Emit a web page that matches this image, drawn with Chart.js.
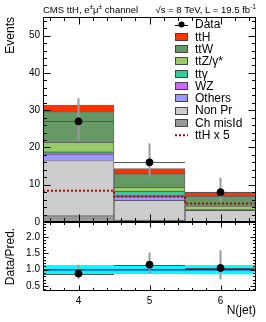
<!DOCTYPE html>
<html>
<head>
<meta charset="utf-8">
<script src="https://cdn.jsdelivr.net/npm/chart.js@4.4.1/dist/chart.umd.min.js"></script>
<style>
  html, body { margin: 0; padding: 0; background: #fff; }
  #wrap { width: 266px; height: 322px; }
</style>
</head>
<body>
<div id="wrap"><canvas id="c" width="266" height="322"></canvas></div>
<script>
// N(jet) bins
const nJet = [4, 5, 6]
const binEdges = [3.5, 4.5, 5.5, 6.5]

// expected yields, stacked bottom to top
const chMisId = [1.7, 0.5, 0.1]
const nonPrompt = [14.8, 5.3, 3.0]
const others = [1.6, 1.0, 0.1]
const wz = [0.5, 0.5, 0.05]
const ttGamma = [0.3, 0.9, 0.15]
const ttZ = [2.5, 1.1, 0.9]
const ttW = [8.2, 3.6, 2.6]
const ttH = [1.8, 1.4, 1.15]
const ttHx5 = [8.4, 6.85, 4.96]

// observed data, with error bar ends
const dataObs = [27, 16, 8]
const dataHi = [33.2, 21.1, 11.9]
const dataLo = [21.8, 12.0, 5.2]

// ratio panel
const ratio = [0.88, 1.15, 1.05]
const ratioHi = [1.15, 1.52, 1.59]
const ratioLo = [0.72, 0.88, 0.70]
const bandHi = [1.13, 1.11, 1.13]
const bandLo = [0.88, 0.88, 0.87]
const ratioRef = 1

// tick labels
const xTicks = [4, 5, 6]
const yTicks = [0, 10, 20, 30, 40, 50]
const rTicks = [0.5, 1.0, 1.5, 2.0]

const FONT = "'Liberation Sans', Arial, Helvetica, sans-serif"

const stackDefs = [
  ['Ch misId', chMisId, '#999999'],
  ['Non Pr', nonPrompt, '#cccccc'],
  ['Others', others, '#9999ff'],
  ['WZ', wz, '#cc66ff'],
  ['tt\u03b3', ttGamma, '#33cc99'],
  ['ttZ/\u03b3*', ttZ, '#99cc66'],
  ['ttW', ttW, '#669966'],
  ['ttH', ttH, '#ff3300']
]

const toXY = vals => nJet.map((n, i) => ({ x: n, y: vals[i] }))

const datasets = stackDefs.map(([label, vals, color]) => ({
  type: 'bar',
  label,
  data: toXY(vals),
  yAxisID: 'y',
  backgroundColor: color,
  borderColor: 'rgba(40,40,40,0.7)',
  borderWidth: 1,
  barPercentage: 1,
  categoryPercentage: 1
}))

datasets.push({
  type: 'line', label: 'ttH x 5', yAxisID: 'y', stack: 'sig5',
  data: binEdges.map((e, i) => ({ x: e, y: ttHx5[Math.min(i, ttHx5.length - 1)] })),
  stepped: 'before', borderColor: '#a00d0d', borderWidth: 2, borderDash: [2, 2],
  pointRadius: 0, fill: false, order: -1
})

datasets.push({
  type: 'scatter', label: 'Data', yAxisID: 'y', stack: 'obs',
  data: toXY(dataObs), errHi: dataHi, errLo: dataLo,
  pointRadius: 3.5, backgroundColor: '#000', borderColor: '#000', order: -2
})

datasets.push({
  type: 'bar', label: 'band', yAxisID: 'yr',
  data: nJet.map((n, i) => ({ x: n, y: [bandLo[i], bandHi[i]] })),
  backgroundColor: '#00ffff', borderWidth: 0,
  barPercentage: 1, categoryPercentage: 1
})

datasets.push({
  type: 'line', label: 'unity', yAxisID: 'yr',
  data: [{ x: binEdges[0], y: ratioRef }, { x: binEdges[binEdges.length - 1], y: ratioRef }],
  borderColor: '#1a1aff', borderWidth: 1.5, pointRadius: 0, fill: false, order: -1
})

datasets.push({
  type: 'scatter', label: 'Ratio', yAxisID: 'yr',
  data: toXY(ratio), errHi: ratioHi, errLo: ratioLo,
  pointRadius: 3.5, backgroundColor: '#000', borderColor: '#000', order: -2
})

// data error bars: bin-wide horizontal line plus vertical uncertainty
const errorBars = {
  id: 'errorBars',
  beforeDatasetDraw(chart, args) {
    const ds = chart.data.datasets[args.index]
    if (!ds.errHi) return
    const ctx = chart.ctx
    const xs = chart.scales.x
    const ys = chart.scales[ds.yAxisID]
    ctx.save()
    ds.data.forEach((p, i) => {
      const px = xs.getPixelForValue(p.x)
      const py = Math.round(ys.getPixelForValue(p.y)) + 0.5
      ctx.strokeStyle = '#555'
      ctx.lineWidth = 1
      ctx.beginPath()
      ctx.moveTo(xs.getPixelForValue(binEdges[i]), py)
      ctx.lineTo(xs.getPixelForValue(binEdges[i + 1]), py)
      ctx.stroke()
      ctx.strokeStyle = '#9a9a9a'
      ctx.lineWidth = 2
      ctx.beginPath()
      ctx.moveTo(px, ys.getPixelForValue(ds.errHi[i]))
      ctx.lineTo(px, ys.getPixelForValue(ds.errLo[i]))
      ctx.stroke()
    })
    ctx.restore()
  }
}

// ROOT style frames with inward ticks on all four sides
const frames = {
  id: 'frames',
  afterDatasetsDraw(chart) {
    const { ctx, scales: { x, y, yr } } = chart
    const L = Math.round(x.left) + 0.5
    const R = Math.round(x.right) - 0.5
    ctx.save()
    ctx.strokeStyle = '#000'
    ctx.lineWidth = 1
    const panels = [[y, 10, 2, 7], [yr, 0.5, 0.1, 5]]
    panels.forEach(([s, major, minor, len]) => {
      const T = Math.round(s.top) + 0.5
      const B = Math.round(s.bottom) - 0.5
      ctx.strokeRect(L, T, R - L, B - T)
      ctx.beginPath()
      for (let k = Math.ceil(s.min / minor - 1e-6); k * minor <= s.max + 1e-6; k++) {
        const v = k * minor
        const isMajor = Math.abs(v / major - Math.round(v / major)) < 1e-6
        const l = isMajor ? len : len / 2
        const py = Math.round(s.getPixelForValue(v)) + 0.5
        ctx.moveTo(L, py); ctx.lineTo(L + l, py)
        ctx.moveTo(R, py); ctx.lineTo(R - l, py)
      }
      for (let k = Math.ceil(x.min / 0.2 - 1e-6); k * 0.2 <= x.max + 1e-6; k++) {
        const v = k * 0.2
        const isMajor = Math.abs(v - Math.round(v)) < 1e-6
        const l = isMajor ? len : len / 2
        const px = Math.round(x.getPixelForValue(v)) + 0.5
        ctx.moveTo(px, B); ctx.lineTo(px, B - l)
        ctx.moveTo(px, T); ctx.lineTo(px, T + l)
      }
      ctx.stroke()
    })
    ctx.restore()
  }
}

function drawRuns(ctx, runs, x, y, size, align) {
  const sup = size * 0.7
  const widths = runs.map(([t, s]) => {
    ctx.font = (s ? sup : size) + 'px ' + FONT
    return ctx.measureText(t).width
  })
  const total = widths.reduce((a, b) => a + b, 0)
  let cx = align === 'right' ? x - total : x
  runs.forEach(([t, s], i) => {
    ctx.font = (s ? sup : size) + 'px ' + FONT
    ctx.fillText(t, cx, s ? y - size * 0.4 : y)
    cx += widths[i]
  })
}

// legend and header text
const annotations = {
  id: 'annotations',
  afterDraw(chart) {
    const ctx = chart.ctx
    const area = chart.chartArea
    ctx.save()
    ctx.fillStyle = '#000'
    ctx.textBaseline = 'alphabetic'
    ctx.textAlign = 'left'
    drawRuns(ctx, [['CMS ttH, e'], ['\u00b1', true], ['\u03bc'], ['\u00b1', true], [' channel']], area.left, 13, 9.5, 'left')
    drawRuns(ctx, [['\u221as = 8 TeV, L = 19.5 fb'], ['-1', true]], area.right, 13, 9.5, 'right')

    const rows = ['Data', 'ttH', 'ttW', 'ttZ/\u03b3*', 'tt\u03b3', 'WZ', 'Others', 'Non Pr', 'Ch misId', 'ttH x 5']
    const x0 = 175, w = 13, tx = 195
    ctx.font = '12px ' + FONT
    ctx.textBaseline = 'middle'
    rows.forEach((label, i) => {
      const yc = 24.5 + i * 12.3
      const ds = chart.data.datasets.find(d => d.label === label)
      if (label === 'Data') {
        ctx.strokeStyle = '#000'; ctx.lineWidth = 1
        ctx.beginPath(); ctx.moveTo(x0, Math.round(yc) + 0.5); ctx.lineTo(x0 + w, Math.round(yc) + 0.5); ctx.stroke()
        ctx.beginPath(); ctx.arc(x0 + w / 2, yc, 3, 0, Math.PI * 2); ctx.fill()
      } else if (ds.type === 'line') {
        ctx.strokeStyle = ds.borderColor; ctx.lineWidth = 2; ctx.setLineDash([2, 2])
        ctx.beginPath(); ctx.moveTo(x0, yc); ctx.lineTo(x0 + w, yc); ctx.stroke()
        ctx.setLineDash([])
      } else {
        ctx.fillStyle = ds.backgroundColor
        ctx.fillRect(x0, Math.round(yc) - 4, w, 8)
        ctx.strokeStyle = '#444'; ctx.lineWidth = 1
        ctx.strokeRect(x0 + 0.5, Math.round(yc) - 3.5, w - 1, 7)
      }
      ctx.fillStyle = '#000'
      ctx.fillText(label, tx, yc + 0.5)
    })
    ctx.restore()
  }
}

const axisFont = { family: FONT, size: 10 }
const titleFont = { family: FONT, size: 12 }

new Chart(document.getElementById('c'), {
  type: 'bar',
  data: { datasets },
  options: {
    responsive: false,
    animation: false,
    devicePixelRatio: 1,
    layout: { padding: { top: 17, right: 10, left: 0, bottom: 0 } },
    plugins: { legend: { display: false }, tooltip: { enabled: false } },
    scales: {
      x: {
        type: 'linear', min: binEdges[0], max: binEdges[binEdges.length - 1],
        offset: false, stacked: true,
        grid: { display: false, drawTicks: false, offset: false },
        border: { display: false },
        afterBuildTicks: s => { s.ticks = xTicks.map(v => ({ value: v })) },
        afterFit: s => { s.height = 31 },
        ticks: { font: axisFont, color: '#000', padding: 4, maxRotation: 0, autoSkip: false },
        title: { display: true, text: 'N(jet)', align: 'end', font: titleFont, color: '#000', padding: { top: 0, bottom: 4 } }
      },
      yr: {
        type: 'linear', axis: 'y', position: 'left', stack: 'v', stackWeight: 69,
        min: 0.35, max: 2.45, stacked: false,
        grid: { display: false, drawTicks: false },
        border: { display: false },
        afterBuildTicks: s => { s.ticks = rTicks.map(v => ({ value: v })) },
        afterFit: s => { s.width = 43 },
        ticks: { font: axisFont, color: '#000', padding: 3, autoSkip: false, callback: v => Number(v).toFixed(1) },
        title: { display: true, text: 'Data/Pred.', align: 'center', font: titleFont, color: '#000', padding: { top: 3, bottom: 0 } }
      },
      y: {
        type: 'linear', position: 'left', stack: 'v', stackWeight: 205,
        min: 0, max: 55, stacked: true,
        grid: { display: false, drawTicks: false },
        border: { display: false },
        afterBuildTicks: s => { s.ticks = yTicks.map(v => ({ value: v })) },
        afterFit: s => { s.width = 43 },
        ticks: { font: axisFont, color: '#000', padding: 3, autoSkip: false },
        title: { display: true, text: 'Events', align: 'end', font: titleFont, color: '#000', padding: { top: 3, bottom: 0 } }
      }
    }
  },
  plugins: [errorBars, frames, annotations]
})
</script>
</body>
</html>
